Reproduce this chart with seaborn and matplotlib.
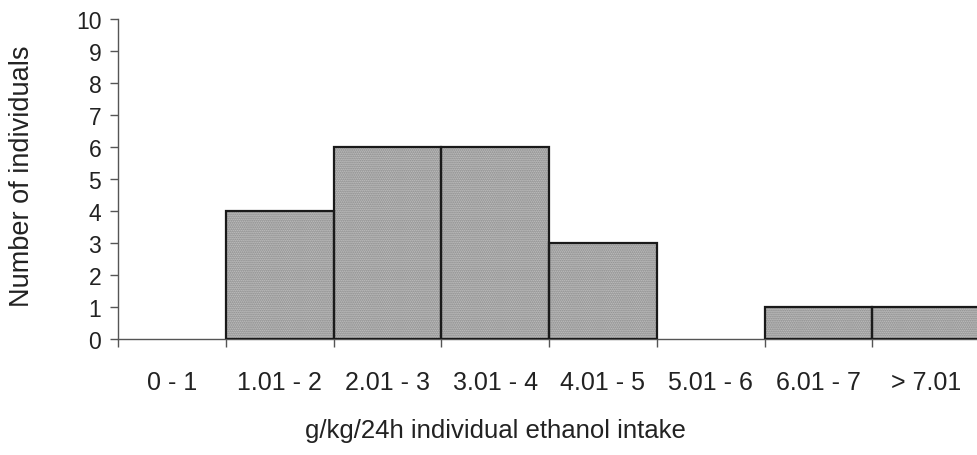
import matplotlib
matplotlib.use("Agg")
import matplotlib.pyplot as plt
import seaborn as sns
import pandas as pd
import numpy as np
from matplotlib.patches import Rectangle

categories = ["0 - 1", "1.01 - 2", "2.01 - 3", "3.01 - 4", "4.01 - 5", "5.01 - 6", "6.01 - 7", "> 7.01"]
counts = [0, 4, 6, 6, 3, 0, 1, 1]
yticks = list(range(0, 11))

sns.set_theme(style="white")
plt.rcParams["font.family"] = ["Liberation Sans", "DejaVu Sans"]

df = pd.DataFrame({"cat": categories, "n": counts})

fig = plt.figure(figsize=(9.77, 4.56), dpi=100)
ax = fig.add_axes([118 / 977, 116 / 456, 862 / 977, 320 / 456])

sns.barplot(data=df, x="cat", y="n", order=categories, width=1.0, ax=ax,
            color="#c8c8c8", saturation=1)

for p in list(ax.patches):
    p.set_facecolor("#cdcdcd")
    p.set_edgecolor("#7a7a7a")
    p.set_hatch("........")
    p.set_linewidth(0)
    if p.get_height() > 0:
        r = Rectangle(p.get_xy(), p.get_width(), p.get_height(), fill=False,
                      edgecolor="#1a1a1a", linewidth=1.6, zorder=3)
        ax.add_patch(r)

ax.set_xlim(-0.5, len(categories) - 0.5)
ax.set_ylim(0, 10)
ax.set_yticks(yticks)
ax.set_yticklabels([str(t) for t in yticks], fontsize=16.5, color="#222222")

ax.set_xticks(np.arange(len(categories) + 1) - 0.5)
ax.set_xticklabels([])
ax.set_xticks(np.arange(len(categories)), minor=True)
ax.set_xticklabels(categories, minor=True, fontsize=18, color="#222222")
ax.tick_params(axis="x", which="major", direction="out", length=6, width=1, color="#555555", bottom=True)
ax.tick_params(axis="x", which="minor", length=0, pad=22)
ax.tick_params(axis="y", direction="out", length=6, width=1, color="#555555", left=True, pad=6)

for s in ["top", "right"]:
    ax.spines[s].set_visible(False)
for s in ["left", "bottom"]:
    ax.spines[s].set_color("#555555")
    ax.spines[s].set_linewidth(1.0)

ax.set_xlabel("")
ax.set_ylabel("")
fig.text(22 / 977, 1 - 176 / 456, "Number of individuals", rotation=90, ha="center", va="center",
         fontsize=19.5, color="#222222")
fig.text(495 / 977, 1 - 431 / 456, "g/kg/24h individual ethanol intake", ha="center", va="center",
         fontsize=18.5, color="#222222")

fig.savefig("out.png", dpi=100)
